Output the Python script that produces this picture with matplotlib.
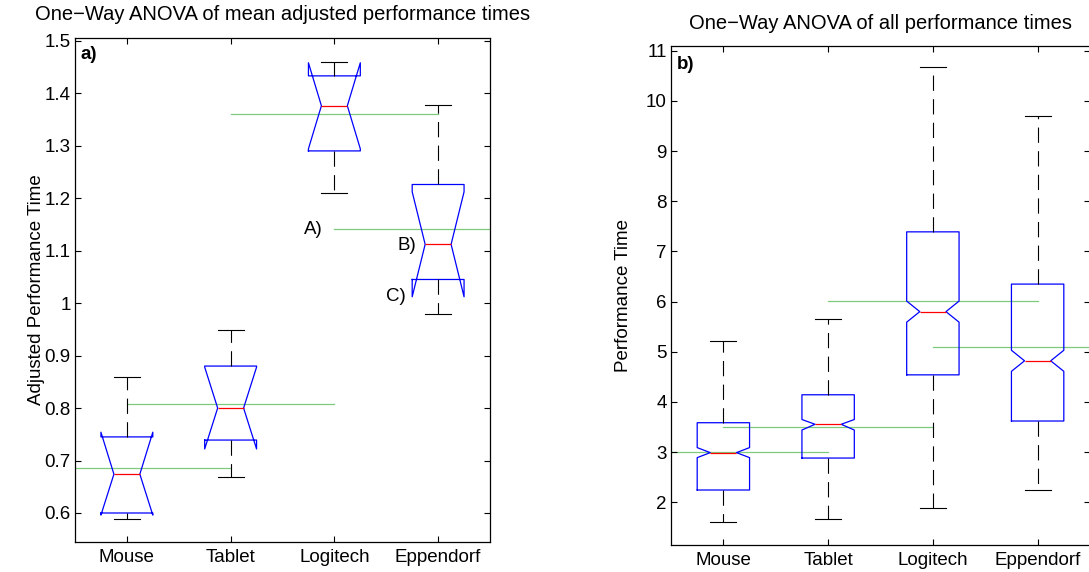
import matplotlib
matplotlib.use("Agg")
import matplotlib.pyplot as plt
import numpy as np

plt.rcParams['font.family'] = ['Liberation Sans', 'DejaVu Sans']
plt.rcParams['lines.scale_dashes'] = False

categories = ["Mouse", "Tablet", "Logitech", "Eppendorf"]

# Panel a) mean adjusted performance times
a_med   = [0.674, 0.800, 1.376, 1.112]
a_q1    = [0.600, 0.739, 1.290, 1.045]
a_q3    = [0.745, 0.880, 1.433, 1.226]
a_cilo  = [0.596, 0.722, 1.294, 1.012]
a_cihi  = [0.754, 0.878, 1.458, 1.212]
a_wlo   = [0.589, 0.668, 1.209, 0.980]
a_whi   = [0.860, 0.948, 1.459, 1.377]
a_mean  = [0.685, 0.807, 1.360, 1.142]
a_yticks = [0.6, 0.7, 0.8, 0.9, 1.0, 1.1, 1.2, 1.3, 1.4, 1.5]

# Panel b) all performance times
b_med   = [2.990, 3.555, 5.800, 4.820]
b_q1    = [2.245, 2.882, 4.540, 3.620]
b_q3    = [3.586, 4.143, 7.390, 6.349]
b_cilo  = [2.890, 3.440, 5.590, 4.610]
b_cihi  = [3.090, 3.650, 6.010, 5.030]
b_wlo   = [1.600, 1.661, 1.880, 2.245]
b_whi   = [5.219, 5.645, 10.677, 9.689]
b_mean  = [3.008, 3.500, 6.010, 5.088]
b_yticks = [2, 3, 4, 5, 6, 7, 8, 9, 10, 11]

W, H = 1089, 572
fig = plt.figure(figsize=(W / 100, H / 100), dpi=100)

FS = 13.5
TFS = 14.5
GREEN = '#7ccc7c'


def make_stats(med, q1, q3, cilo, cihi, wlo, whi):
    out = []
    for i in range(len(med)):
        out.append(dict(med=med[i], q1=q1[i], q3=q3[i], cilo=cilo[i], cihi=cihi[i],
                        whislo=wlo[i], whishi=whi[i], fliers=[]))
    return out


def panel(rect, stats, means, yticks, ylim, ylabel, title, tag, tagpos, labelpad, tpad):
    ax = fig.add_axes(rect)
    pos = np.arange(1, len(categories) + 1)
    ax.bxp(stats, positions=pos, widths=0.5, shownotches=True, showfliers=False,
           boxprops=dict(color='blue', lw=0.9),
           medianprops=dict(color='red', lw=0.9),
           whiskerprops=dict(color='black', lw=0.8, linestyle=(0, (11, 6))),
           capprops=dict(color='black', lw=0.8),
           capwidths=0.25, manage_ticks=False)
    for p, m in zip(pos, means):
        ax.plot([p - 1, p + 1], [m, m], color=GREEN, lw=0.9, zorder=1)
    ax.set_xlim(0.5, len(categories) + 0.5)
    ax.set_ylim(*ylim)
    ax.set_xticks(pos)
    ax.set_xticklabels(categories)
    ax.set_yticks(yticks)
    ax.set_yticklabels(['%g' % v for v in yticks])
    ax.tick_params(direction='in', length=4, width=0.8, top=True, right=True,
                   labelsize=FS, pad=3, color='black')
    ax.tick_params(axis='x', pad=5)
    for s in ax.spines.values():
        s.set_linewidth(0.9)
    ax.set_ylabel(ylabel, fontsize=FS, labelpad=labelpad)
    ax.set_title(title, fontsize=TFS, pad=tpad)
    ax.text(tagpos[0], tagpos[1], tag, transform=ax.transAxes, fontsize=FS,
            fontweight='bold', ha='left', va='center')
    return ax


axa = panel([75 / W, 1 - 541.7 / H, 415 / W, 503.4 / H],
            make_stats(a_med, a_q1, a_q3, a_cilo, a_cihi, a_wlo, a_whi),
            a_mean, a_yticks, (0.5453, 1.5046), 'Adjusted Performance Time',
            'One\u2212Way ANOVA of mean adjusted performance times', 'a)',
            (0.013, 0.968), 0, 13)
axa.text(2.795, 1.141, 'A)', fontsize=FS, ha='center', va='center')
axa.text(3.70, 1.1105, 'B)', fontsize=FS, ha='center', va='center')
axa.text(3.595, 1.012, 'C)', fontsize=FS, ha='center', va='center')

axb = panel([671 / W, 1 - 545 / H, 419 / W, 499.3 / H],
            make_stats(b_med, b_q1, b_q3, b_cilo, b_cihi, b_wlo, b_whi),
            b_mean, b_yticks, (1.149, 11.1), 'Performance Time',
            'One\u2212Way ANOVA of all performance times', 'b)',
            (0.013, 0.963), 10, 12)

fig.savefig('out.png', dpi=100)
